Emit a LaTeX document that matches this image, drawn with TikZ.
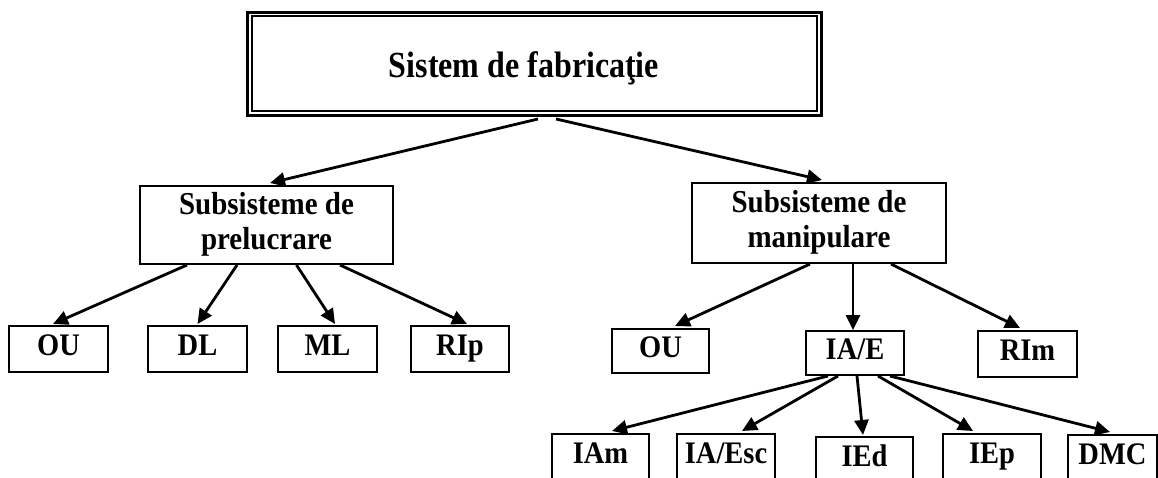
\documentclass[tikz,border=0pt]{standalone}
\usepackage{fontspec}
\setmainfont{Liberation Serif}
\usetikzlibrary{arrows.meta}
\newcommand\talltext[2][1.1]{\scalebox{1}[#1]{#2}}
\begin{document}
\begin{tikzpicture}[x=1pt,y=-1pt,
  box/.style={draw,line width=2pt,inner sep=0pt,minimum height=46pt,
    font=\bfseries\fontsize{28.5}{34}\selectfont,text height=20pt,text depth=8pt},
  sub/.style={draw,line width=2pt,inner sep=0pt,minimum width=253pt,
    font=\bfseries\fontsize{29}{31.8}\selectfont},
  arr/.style={line width=2.8pt,-{Triangle[length=15pt,width=14pt]}},
  titlebox/.style={draw,line width=3pt,inner sep=0pt,
    font=\bfseries\fontsize{32}{38}\selectfont,text height=27.5pt,text depth=0pt}]
\useasboundingbox (0,0) rectangle (1158,478);
% top
\node[titlebox,minimum width=574pt,minimum height=103.5pt] (top) at (534,64.25)
  {\kern-20pt\talltext[1.15]{Sistem de fabricaţie}};
\draw[line width=2pt] ([shift={(6pt,-5pt)}]top.north west) rectangle ([shift={(-6pt,6.5pt)}]top.south east);
% subsystems
\node[sub,minimum height=78pt] (lsub) at (266.5,225)
  {\talltext{\begin{tabular}{@{}c@{}}Subsisteme de\\prelucrare\end{tabular}}};
\node[sub,minimum width=254pt,minimum height=80pt] (rsub) at (819,223)
  {\talltext{\begin{tabular}{@{}c@{}}Subsisteme de\\manipulare\end{tabular}}};
% left row
\node[box,minimum width=99pt] (lou) at (58.5,349) {\talltext{OU}};
\node[box,minimum width=99pt] (dl) at (197.5,349) {\talltext{DL}};
\node[box,minimum width=99pt] (ml) at (327.5,349) {\talltext{ML}};
\node[box,minimum width=98pt] (rip) at (460,349) {\talltext{RIp}};
% right row
\node[box,minimum width=97pt,minimum height=44pt] (rou) at (660.5,351) {\talltext{OU}};
\node[box,minimum width=98pt,minimum height=44pt] (iae) at (855,353) {\talltext{IA/E}};
\node[box,minimum width=99pt] (rim) at (1027.5,354) {\talltext{RIm}};
% bottom row
\node[box,minimum width=97pt] (iam) at (600.5,457) {\talltext{IAm}};
\node[box,minimum width=98pt] (iaesc) at (726,457) {\talltext{IA/Esc}};
\node[box,minimum width=97pt] (ied) at (864.5,460) {\talltext{IEd}};
\node[box,minimum width=98pt] (iep) at (992,457) {\talltext{IEp}};
\node[box,minimum width=89pt] (dmc) at (1112.5,458) {\talltext{DMC}};
% arrows
\draw[arr] ([xshift=4pt,yshift=-1.5pt]top.south) -- ([xshift=3.5pt,yshift=2pt]lsub.north);
\draw[arr] ([xshift=22pt,yshift=-1.5pt]top.south) -- ([xshift=3pt,yshift=2pt]rsub.north);
\draw[arr] ([xshift=-79.5pt]lsub.south) -- ([xshift=-5.5pt,yshift=1pt]lou.north);
\draw[arr] ([xshift=-29.5pt]lsub.south) -- ([yshift=1pt]dl.north);
\draw[arr] ([xshift=30pt]lsub.south) -- ([xshift=7.5pt,yshift=1pt]ml.north);
\draw[arr] ([xshift=73.5pt]lsub.south) -- ([xshift=7pt,yshift=1pt]rip.north);
\draw[arr] ([xshift=-9pt]rsub.south) -- ([xshift=14.5pt,yshift=2pt]rou.north);
\draw[arr] ([xshift=34pt]rsub.south) -- ([xshift=-2pt]iae.north);
\draw[arr] ([xshift=72pt]rsub.south) -- ([xshift=-7.5pt,yshift=2pt]rim.north);
\draw[arr] ([xshift=-27pt]iae.south) -- ([xshift=11.5pt,yshift=2pt]iam.north);
\draw[arr] ([xshift=-17pt]iae.south) -- ([xshift=16pt,yshift=2pt]iaesc.north);
\draw[arr] ([xshift=2pt]iae.south) -- ([xshift=-1.5pt,yshift=1pt]ied.north);
\draw[arr] ([xshift=23pt]iae.south) -- ([xshift=-19pt,yshift=2pt]iep.north);
\draw[arr] ([xshift=35pt]iae.south) -- ([xshift=-2.5pt,yshift=2pt]dmc.north);
\end{tikzpicture}
\end{document}
